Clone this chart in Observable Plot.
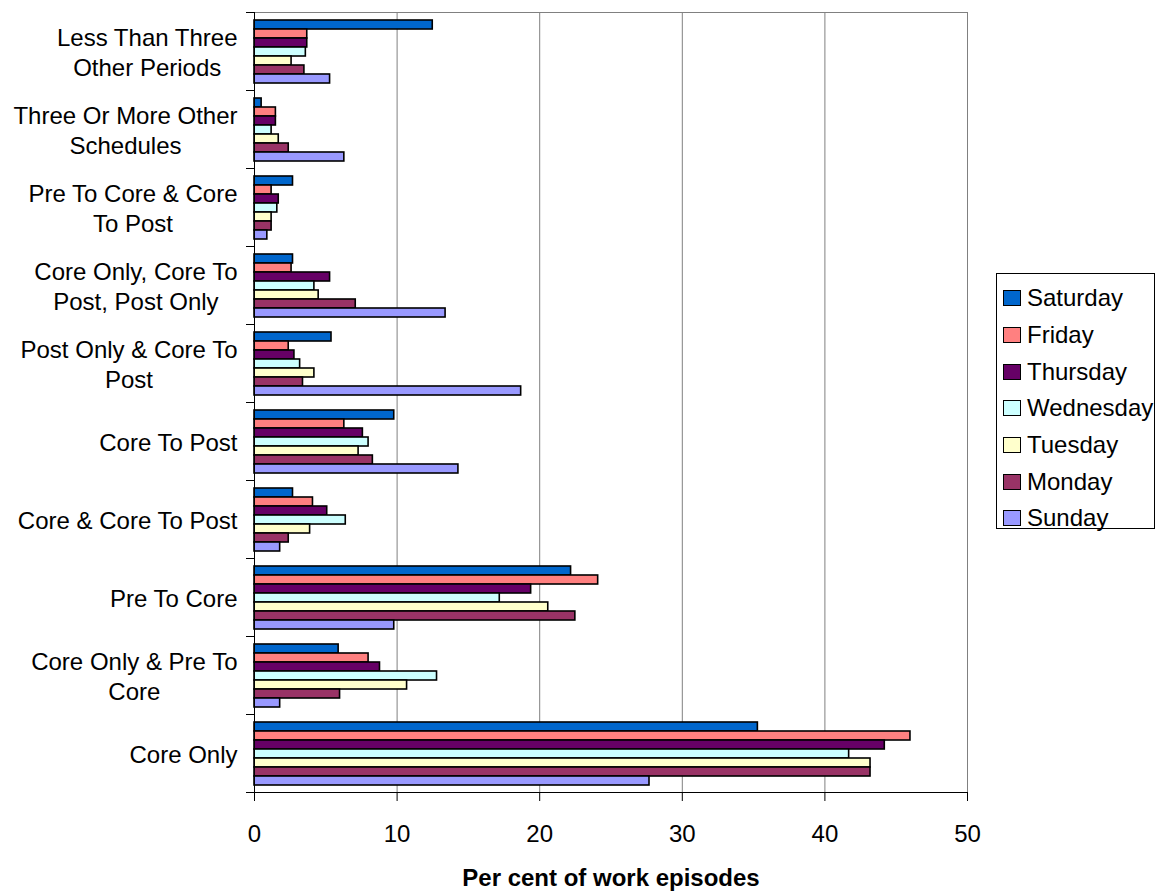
<!DOCTYPE html>
<html>
<head>
<meta charset="utf-8">
<script src="https://cdn.jsdelivr.net/npm/d3@7"></script>
<script src="https://cdn.jsdelivr.net/npm/@observablehq/plot@0.6"></script>
<style>
  html, body { margin: 0; padding: 0; background: #fff; }
  #chart { position: relative; width: 1160px; height: 892px; font-family: "Liberation Sans", Arial, sans-serif; }
  #chart svg g[aria-label="x-axis label"] text { font-weight: bold; }
  .legend { position: absolute; left: 996px; top: 273px; width: 157px; height: 248px;
            border: 1px solid #000; box-sizing: content-box; padding-top: 6px; }
  .legend .item { display: flex; align-items: center; height: 36.7px; font-size: 24px; color: #000; }
  .legend .sw { width: 16px; height: 14px; border: 1px solid #000; margin: 0 6px 0 6px; flex: none; }
</style>
</head>
<body>
<div id="chart"></div>
<script>
// Work schedule categories, top to bottom (line breaks as shown on the axis)
const categories = [
  "Less Than Three\nOther Periods",
  "Three Or More Other\nSchedules",
  "Pre To Core & Core\nTo Post",
  "Core Only, Core To\nPost, Post Only",
  "Post Only & Core To\nPost",
  "Core To Post",
  "Core & Core To Post",
  "Pre To Core",
  "Core Only & Pre To\nCore",
  "Core Only"
];

// Day series, in the order they are stacked within each group
const days = ["Saturday", "Friday", "Thursday", "Wednesday", "Tuesday", "Monday", "Sunday"];
const dayColors = ["#0066cc", "#ff8080", "#660066", "#ccffff", "#ffffcc", "#993366", "#9999ff"];

// Per cent of work episodes, one value per category (same order as categories)
const saturday  = [12.5, 0.5, 2.7,  2.7,  5.4,  9.8, 2.7, 22.2,  5.9, 35.3];
const friday    = [ 3.7, 1.5, 1.2,  2.6,  2.4,  6.3, 4.1, 24.1,  8.0, 46.0];
const thursday  = [ 3.7, 1.5, 1.7,  5.3,  2.8,  7.6, 5.1, 19.4,  8.8, 44.2];
const wednesday = [ 3.6, 1.2, 1.6,  4.2,  3.2,  8.0, 6.4, 17.2, 12.8, 41.7];
const tuesday   = [ 2.6, 1.7, 1.2,  4.5,  4.2,  7.3, 3.9, 20.6, 10.7, 43.2];
const monday    = [ 3.5, 2.4, 1.2,  7.1,  3.4,  8.3, 2.4, 22.5,  6.0, 43.2];
const sunday    = [ 5.3, 6.3, 0.9, 13.4, 18.7, 14.3, 1.8,  9.8,  1.8, 27.7];

const xTicks = [0, 10, 20, 30, 40, 50];
const xLabel = "Per cent of work episodes";

const series = [saturday, friday, thursday, wednesday, tuesday, monday, sunday];
const data = [];
days.forEach((day, i) => {
  categories.forEach((category, j) => {
    data.push({category, day, value: series[i][j]});
  });
});

const width = 1160, height = 892;
const marginTop = 12, marginBottom = 100, marginLeft = 254, marginRight = 193;
const band = (height - marginTop - marginBottom) / categories.length;
const font = '"Liberation Sans", Arial, sans-serif';

const plot = Plot.plot({
  width, height, marginTop, marginBottom, marginLeft, marginRight,
  style: {fontFamily: font, fontSize: "24px", color: "#000", background: "#fff", overflow: "visible"},
  x: {domain: [0, 50], axis: null},
  y: {domain: days, paddingInner: 0, paddingOuter: 0.74, axis: null},
  fy: {domain: categories, padding: 0, axis: null},
  color: {domain: days, range: dayColors},
  marks: [
    Plot.gridX(xTicks.filter((t) => t > 0), {stroke: "#808080", strokeOpacity: 1}),
    Plot.frame({facet: "super", anchor: "top", stroke: "#808080"}),
    Plot.barX(data, {x: "value", y: "day", fy: "category", fill: "day", stroke: "#000", strokeWidth: 1.6}),
    Plot.frame({facet: "super", anchor: "left", stroke: "#000"}),
    Plot.frame({facet: "super", anchor: "bottom", stroke: "#000"}),
    Plot.axisX({
      ticks: xTicks, tickSize: 9, tickPadding: 23, fontSize: 24, stroke: "#000",
      label: xLabel, labelAnchor: "center", labelArrow: "none", labelOffset: 93
    }),
    Plot.axisFy({anchor: "left", tickSize: 0, tickPadding: 17, fontSize: 24, lineHeight: 1.25, label: null}),
    Plot.axisFy({anchor: "left", tickSize: 8, tickFormat: null, label: null, dy: -band / 2}),
    Plot.axisFy({anchor: "left", ticks: [categories[categories.length - 1]], tickSize: 8, tickFormat: null, label: null, dy: band / 2})
  ]
});

const chart = document.getElementById("chart");
chart.appendChild(plot);

// Multi-line category labels: centre the lines within the right-aligned block
plot.querySelectorAll('g[aria-label="fy-axis tick label"] text').forEach((t) => {
  const spans = t.querySelectorAll("tspan");
  if (spans.length < 2) return;
  const widths = Array.from(spans, (s) => s.getComputedTextLength());
  const w = Math.max(...widths);
  spans.forEach((s, i) => s.setAttribute("x", -(w - widths[i]) / 2));
});

// Legend box to the right of the plot
const legend = document.createElement("div");
legend.className = "legend";
days.forEach((day, i) => {
  const item = document.createElement("div");
  item.className = "item";
  const sw = document.createElement("span");
  sw.className = "sw";
  sw.style.background = dayColors[i];
  const label = document.createElement("span");
  label.textContent = day;
  item.appendChild(sw);
  item.appendChild(label);
  legend.appendChild(item);
});
chart.appendChild(legend);
</script>
</body>
</html>
